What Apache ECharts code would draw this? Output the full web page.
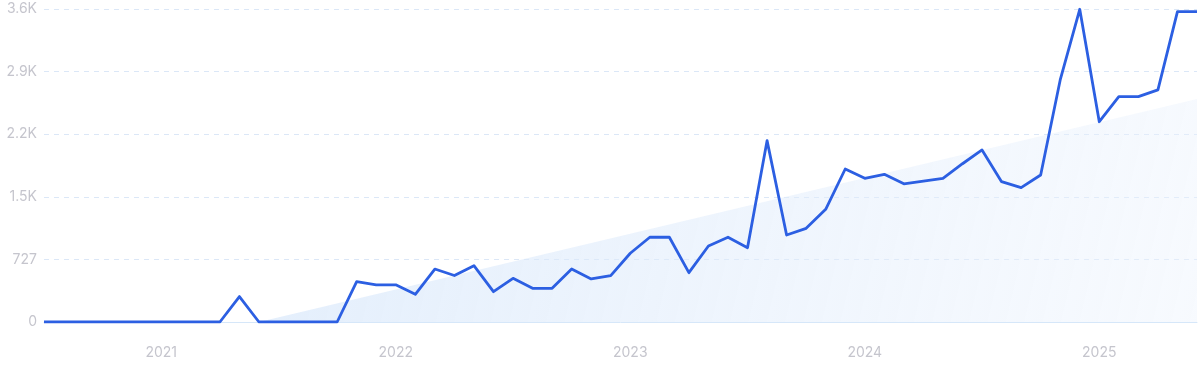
<!DOCTYPE html>
<html>
<head>
<meta charset="utf-8">
<script src="https://cdn.jsdelivr.net/npm/echarts@6/dist/echarts.min.js"></script>
<style>
html,body{margin:0;padding:0;background:#fff;}
#chart{width:1200px;height:371px;}
</style>
</head>
<body>
<div id="chart"></div>
<script>
const months = ['Jul','Aug','Sep','Oct','Nov','Dec','Jan','Feb','Mar','Apr','May','Jun'];
const categories = [];
for (let i = 0; i < 60; i++) {
  const m = months[i % 12];
  const y = 2020 + Math.floor((i + 6) / 12);
  categories.push(m + ' ' + y);
}
const values = [
  0, 0, 0, 0, 0, 0, 0, 0, 0, 0,
  295, 0, 0, 0, 0, 0, 468, 432, 432, 322,
  615, 540, 654, 352, 507, 391, 391, 615, 500, 538,
  798, 984, 984, 573, 883, 984, 863, 2106, 1010, 1088,
  1309, 1777, 1669, 1715, 1605, 1636, 1669, 1838, 1998, 1630,
  1560, 1707, 2811, 3632, 2326, 2617, 2617, 2695, 3605, 3605
];
const trendPoints = [[11, 0], [59, 2590]];
const yTickLabels = ['0', '727', '1.5K', '2.2K', '2.9K', '3.6K'];
const yearLabels = ['2021', '2022', '2023', '2024', '2025'];
const yInterval = 727;

const chart = echarts.init(document.getElementById('chart'), null, {renderer: 'canvas'});
chart.setOption({
  animation: false,
  grid: {left: 44, right: 3, top: 9, bottom: 49, containLabel: false},
  xAxis: {
    type: 'category',
    data: categories,
    boundaryGap: false,
    axisLine: {show: true, lineStyle: {color: '#d6e7f9', width: 1}},
    axisTick: {show: false},
    splitLine: {show: false},
    axisLabel: {
      interval: function (idx, val) { return val.indexOf('Jan') === 0; },
      formatter: function (val) {
        const yr = val.split(' ')[1];
        return yearLabels.indexOf(yr) >= 0 ? yr : '';
      },
      color: '#c5c5cd',
      fontFamily: 'Inter',
      fontSize: 14,
      margin: 24
    }
  },
  yAxis: {
    type: 'value',
    min: 0,
    max: yInterval * 5,
    interval: yInterval,
    axisLine: {show: false},
    axisTick: {show: false},
    splitLine: {show: true, lineStyle: {color: '#dbe7f7', type: [5, 5], width: 1}},
    axisLabel: {
      formatter: function (v) { return yTickLabels[Math.round(v / yInterval)]; },
      color: '#c5c5cd',
      fontFamily: 'Inter',
      fontSize: 14,
      margin: 7
    }
  },
  series: [
    {
      type: 'line',
      data: trendPoints,
      symbol: 'none',
      lineStyle: {width: 0, opacity: 0},
      areaStyle: {
        color: new echarts.graphic.LinearGradient(0, 0, 1, 1, [
          {offset: 0, color: 'rgba(210,228,250,0.9)'},
          {offset: 1, color: 'rgba(236,243,253,0.6)'}
        ])
      },
      z: 1,
      silent: true
    },
    {
      type: 'line',
      data: values,
      symbol: 'none',
      smooth: false,
      lineStyle: {color: '#2c5fe2', width: 2.8, join: 'round'},
      z: 3
    }
  ]
});
</script>
</body>
</html>
